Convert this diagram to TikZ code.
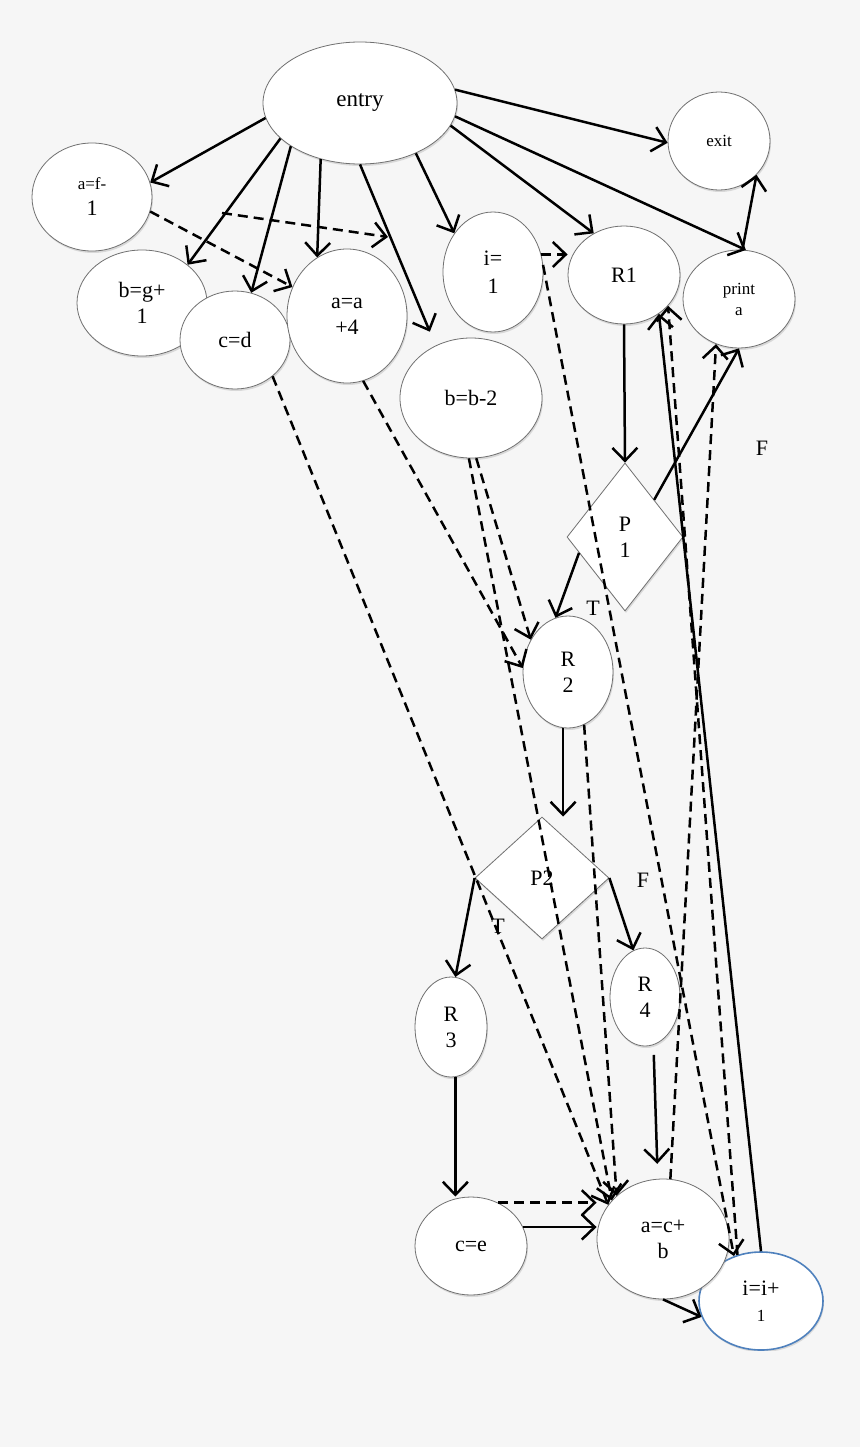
\documentclass[tikz,border=0pt]{standalone}
\usepackage{fontspec}
\setmainfont{Liberation Serif}
\usepackage{tikz}
\usetikzlibrary{arrows.meta,shapes.geometric,shadows}
\definecolor{pagebg}{HTML}{F6F6F6}
\definecolor{nodeline}{HTML}{707070}
\definecolor{loopblue}{HTML}{4F81BD}
\newcommand\labfont{\fontsize{22}{26}\selectfont}
\newcommand\smfont{\fontsize{17}{20}\selectfont}

\tikzset{
  blob/.style={ellipse,draw=nodeline,line width=0.8pt,fill=white,inner sep=0pt,align=center,
    font=\labfont,drop shadow={opacity=0.25,shadow xshift=1pt,shadow yshift=-2pt}},
  test/.style={diamond,draw=nodeline,line width=0.8pt,fill=white,inner sep=0pt,align=center,
    font=\labfont,drop shadow={opacity=0.25,shadow xshift=1pt,shadow yshift=-2pt}},
  flow/.style={line width=2.5pt,-{Straight Barb[length=13pt,width=25pt]}},
  dflow/.style={flow,dash pattern=on 10pt off 6pt},
  edgelbl/.style={font=\labfont}
}

\begin{document}
\begin{tikzpicture}[x=1pt,y=-1pt]
  \fill[pagebg] (0,0) rectangle (860,1447);
  \useasboundingbox (0,0) rectangle (860,1447);

  % statements
  \node[blob,minimum width=194pt,minimum height=122pt,font=\fontsize{23}{26}\selectfont] (entry) at (360,103) {entry};
  \node[blob,minimum width=102pt,minimum height=98pt,font=\smfont] (exit) at (719,141) {exit};
  \node[blob,minimum width=120pt,minimum height=108pt] (af) at (92,197) {{\smfont a=f-}\\1};
  \node[blob,minimum width=130pt,minimum height=106pt] (bg) at (142,303) {b=g+\\1};
  \node[blob,minimum width=110pt,minimum height=98pt] (cd) at (235,340) {c=d};
  \node[blob,minimum width=120pt,minimum height=134pt] (a4) at (347,316) {a=a\\+4};
  \node[blob,minimum width=142pt,minimum height=120pt] (bb) at (471,398) {b=b-2};
  \node[blob,minimum width=100pt,minimum height=120pt] (i1) at (493,272) {i=\\[2pt]1};
  \node[blob,minimum width=112pt,minimum height=98pt] (r1) at (624,275) {R1};
  \node[blob,minimum width=112pt,minimum height=98pt,font=\fontsize{17}{21}\selectfont] (pa) at (739,299) {print\\a};
  \node[test,minimum width=116pt,minimum height=148pt] (p1) at (625,537) {P\\1};
  \node[blob,minimum width=90pt,minimum height=112pt] (r2) at (568,672) {R\\2};
  \node[test,minimum width=134pt,minimum height=122pt] (p2) at (542,878) {P2};
  \node[blob,minimum width=72pt,minimum height=100pt] (r3) at (451,1027) {R\\3};
  \node[blob,minimum width=70pt,minimum height=98pt] (r4) at (645,997) {R\\4};
  \node[blob,minimum width=112pt,minimum height=98pt] (ce) at (471,1246) {c=e};
  \begin{scope}
    \clip (0,0) rectangle (860,1350);
    \node[blob,draw=loopblue,line width=1.6pt,minimum width=124pt,minimum height=98pt] (ii) at (761,1301) {i=i+\\{\smfont 1}};
  \end{scope}
  \node[blob,minimum width=132pt,minimum height=120pt] (ac) at (663,1239) {a=c+\\b};

  % branch labels
  \node[edgelbl] (t1) at (593,608) {T};
  \node[edgelbl] (f1) at (762,448) {F};
  \node[edgelbl] (f2) at (643,880) {F};
  \node[edgelbl] (t2) at (498,926) {T};

  % control flow
  \draw[flow] (entry.8) -- (exit.182);
  \draw[flow] (entry.189) -- (af.14);
  \draw[flow] (entry.204) -- (bg.40);
  \draw[flow] (entry.212) -- (cd.71);
  \draw[flow] (entry.235) -- (a4.117);
  \draw[flow,shorten >=15pt] (entry.south) -- (bb.124);
  \draw[flow] (entry.318) -- (i1.135);
  \draw[flow] (entry.346) -- (r1.126);
  \draw[flow] (entry.352) -- (pa.82);
  \draw[flow] (pa.86) -- (exit.318);
  \draw[flow] (r1.south) -- (p1.north);
  \draw[flow] (p1.north east) -- (pa.south);
  \draw[flow] (p1.199) -- (r2.103);
  \draw[flow] (r2.265) -- (r2.265 |- p2.north);
  \draw[flow] (p2.west) -- (r3.85);
  \draw[flow] (p2.east) -- (r4.104);
  \draw[flow] (r3.275) -- (r3.275 |- ce.north);
  \draw[flow,shorten <=10pt,shorten >=15pt] (r4.280) -- (ac.95);
  \draw[flow] (ce.20) -- (ce.20 -| ac.west);
  \draw[flow] (ac.south) -- (ii.195);
  \draw[flow] (ii.north) -- (r1.312);

  % dependences
  \coordinate (gapl) at (222,213);
  \coordinate (gapr) at (388,237);
  \draw[dflow] (gapl) -- (gapr);
  \draw[dflow] (af.346) -- (a4.152);
  \draw[dflow] (i1.20) -- (i1.20 -| r1.west);
  \draw[dflow] (i1.8) -- (ii.121);
  \draw[dflow] (cd.316) -- (ac.148);
  \draw[dflow] (a4.284) -- (r2.175);
  \draw[dflow] (bb.275) -- (r2.139);
  \draw[dflow] (bb.268) -- (ac.143);
  \draw[dflow] (r2.287) -- (ac.137);
  \draw[dflow] (ce.58) -- (ce.58 -| ac.west);
  \draw[dflow] (ac.83) -- (pa.243);
  \draw[dflow] (ii.117) -- (r1.325);
\end{tikzpicture}
\end{document}
